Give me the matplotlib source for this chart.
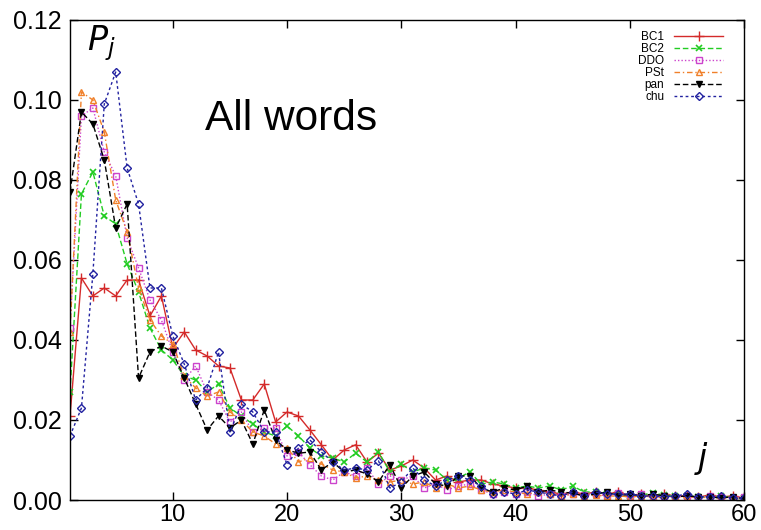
import numpy as np
import matplotlib.pyplot as plt

plt.rcParams['font.family'] = ['Liberation Sans', 'DejaVu Sans']

# word position j = 1..60
j = np.arange(1, 61)

bc1 = [0.021, 0.0555, 0.051, 0.053, 0.051, 0.055, 0.055, 0.046, 0.051, 0.038,
       0.042, 0.0375, 0.036, 0.0335, 0.033, 0.025, 0.025, 0.029, 0.0195, 0.022,
       0.021, 0.0175, 0.0138, 0.010, 0.0125, 0.0138, 0.0095, 0.0117, 0.0075, 0.0085,
       0.010, 0.008, 0.005, 0.006, 0.0045, 0.005, 0.005, 0.004, 0.0035, 0.003,
       0.003, 0.0025, 0.002, 0.0015, 0.002, 0.0015, 0.002, 0.0015, 0.002, 0.001,
       0.0015, 0.001, 0.0015, 0.001, 0.001, 0.0008, 0.0012, 0.0008, 0.001, 0.0005]

bc2 = [0.027, 0.0765, 0.082, 0.071, 0.069, 0.059, 0.052, 0.043, 0.0375, 0.035,
       0.031, 0.030, 0.027, 0.029, 0.023, 0.021, 0.019, 0.017, 0.016, 0.0185,
       0.016, 0.013, 0.011, 0.0105, 0.0095, 0.0117, 0.0095, 0.012, 0.007, 0.009,
       0.007, 0.008, 0.0075, 0.005, 0.0055, 0.007, 0.004, 0.0045, 0.004, 0.003,
       0.0035, 0.003, 0.0035, 0.0025, 0.0035, 0.002, 0.002, 0.0015, 0.0015, 0.001,
       0.0012, 0.0018, 0.0012, 0.001, 0.001, 0.0008, 0.0008, 0.001, 0.0005, 0.0005]

ddo = [0.043, 0.096, 0.098, 0.087, 0.081, 0.0655, 0.058, 0.050, 0.045, 0.037,
       0.030, 0.0335, 0.027, 0.025, 0.0195, 0.022, 0.017, 0.018, 0.018, 0.011,
       0.012, 0.0088, 0.006, 0.005, 0.007, 0.006, 0.008, 0.004, 0.006, 0.005,
       0.006, 0.003, 0.004, 0.0025, 0.0035, 0.004, 0.0025, 0.0015, 0.002, 0.0015,
       0.002, 0.001, 0.0015, 0.001, 0.0015, 0.0012, 0.0015, 0.001, 0.0018, 0.001,
       0.0015, 0.0005, 0.001, 0.0008, 0.001, 0.0005, 0.001, 0.0008, 0.0005, 0.0008]

pst = [0.042, 0.102, 0.100, 0.092, 0.075, 0.067, 0.053, 0.045, 0.041, 0.039,
       0.031, 0.028, 0.026, 0.027, 0.022, 0.020, 0.017, 0.016, 0.014, 0.013,
       0.0095, 0.0105, 0.009, 0.0075, 0.007, 0.0055, 0.006, 0.005, 0.0045, 0.005,
       0.004, 0.0045, 0.003, 0.004, 0.003, 0.0035, 0.0025, 0.002, 0.0025, 0.002,
       0.0015, 0.002, 0.0015, 0.001, 0.0015, 0.001, 0.0012, 0.001, 0.001, 0.0008,
       0.001, 0.0008, 0.0005, 0.001, 0.0005, 0.0008, 0.0005, 0.0005, 0.0005, 0.0003]

pan = [0.077, 0.097, 0.094, 0.085, 0.068, 0.074, 0.0305, 0.037, 0.0385, 0.037,
       0.0305, 0.024, 0.0175, 0.021, 0.018, 0.020, 0.014, 0.0225, 0.015, 0.0125,
       0.0117, 0.012, 0.0075, 0.0095, 0.007, 0.0075, 0.0065, 0.0045, 0.0088, 0.003,
       0.006, 0.007, 0.004, 0.0035, 0.006, 0.006, 0.003, 0.002, 0.003, 0.0025,
       0.0035, 0.002, 0.0025, 0.002, 0.0017, 0.001, 0.0015, 0.002, 0.001, 0.0015,
       0.001, 0.0015, 0.001, 0.0008, 0.001, 0.0008, 0.0008, 0.0005, 0.0008, 0.0003]

chu = [0.016, 0.023, 0.0565, 0.099, 0.107, 0.083, 0.074, 0.053, 0.053, 0.041,
       0.034, 0.025, 0.028, 0.037, 0.017, 0.024, 0.022, 0.017, 0.017, 0.0088,
       0.013, 0.015, 0.012, 0.0095, 0.0075, 0.008, 0.0075, 0.0098, 0.003, 0.0045,
       0.008, 0.005, 0.0035, 0.005, 0.006, 0.005, 0.0035, 0.0015, 0.002, 0.0015,
       0.0025, 0.002, 0.0015, 0.001, 0.002, 0.001, 0.002, 0.0015, 0.0015, 0.0015,
       0.001, 0.001, 0.0008, 0.001, 0.0015, 0.0008, 0.0008, 0.001, 0.0005, 0.0005]

fig = plt.figure(figsize=(7.61, 5.30), dpi=100)
ax = fig.add_axes([0.092, 0.0566, 0.8857, 0.9057])

ms = 5
ax.plot(j, bc1, color='#d42a2a', lw=1.0, ls='-', marker='+', ms=7, mew=1.0, label='BC1')
ax.plot(j, bc2, color='#22cc22', lw=1.0, ls=(0, (4, 2)), marker='x', ms=ms, mew=1.2, label='BC2')
ax.plot(j, ddo, color='#cc44cc', lw=1.0, ls=(0, (1, 1.5)), marker='s', ms=ms,
        mfc='none', mew=1.0, label='DDO')
ax.plot(j, pst, color='#f0802a', lw=1.0, ls=(0, (4, 2, 1, 2)), marker='^', ms=ms,
        mfc='none', mew=1.0, label='PSt')
ax.plot(j, pan, color='black', lw=1.0, ls=(0, (4, 2)), marker='v', ms=ms, label='pan')
ax.plot(j, chu, color='#2222a0', lw=1.0, ls=(0, (2, 2)), marker='D', ms=4,
        mfc='none', mew=1.0, label='chu')

ax.set_xlim(1, 60)
ax.set_ylim(0, 0.12)
ax.set_xticks([10, 20, 30, 40, 50, 60])
ax.set_yticks(np.arange(0, 0.121, 0.02))
ax.set_yticklabels(['%.2f' % v for v in np.arange(0, 0.121, 0.02)])
ax.tick_params(direction='in', length=6, width=1, top=True, right=True)
ax.tick_params(axis='y', labelsize=18, pad=6)
ax.tick_params(axis='x', labelsize=17, pad=3)
for s in ax.spines.values():
    s.set_linewidth(1.0)

ax.text(12.8, 0.0925, 'All words', fontsize=30.5)
ax.text(2.5, 0.1125, '$P_j$', fontsize=24, math_fontfamily='dejavusans')
ax.text(55.6, 0.008, '$j$', fontsize=24, math_fontfamily='dejavusans')

ax.legend(loc='upper right', frameon=False, markerfirst=False, fontsize=8.5,
          handlelength=4.2, handletextpad=0.8, labelspacing=0.0,
          borderaxespad=0.1, bbox_to_anchor=(0.978, 0.99))

fig.savefig('out.png', dpi=100)
